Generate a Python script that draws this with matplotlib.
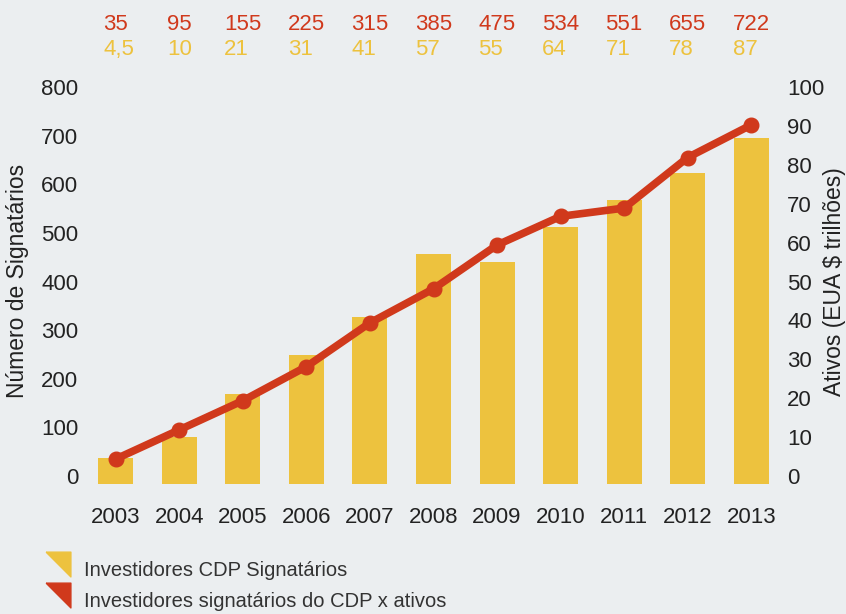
import matplotlib
matplotlib.use('Agg')
import matplotlib.pyplot as plt
from matplotlib.lines import Line2D
from matplotlib.path import Path as MplPath

years = ['2003', '2004', '2005', '2006', '2007', '2008', '2009', '2010', '2011', '2012', '2013']
signatarios = [35, 95, 155, 225, 315, 385, 475, 534, 551, 655, 722]
ativos = [4.5, 10, 21, 31, 41, 57, 55, 64, 71, 78, 87]
ativos_labels = ['4,5', '10', '21', '31', '41', '57', '55', '64', '71', '78', '87']

RED = '#d0391c'
YELLOW = '#edc23e'
BG = '#ebeef0'
TXT = '#222222'

plt.rcParams['font.family'] = ['Liberation Sans', 'DejaVu Sans']

W, H = 846, 614
fig = plt.figure(figsize=(W / 100, H / 100), dpi=100, facecolor=BG)
# axes placed in pixel terms: x 84..783, y 87..476 (from top)
ax = fig.add_axes([84 / W, 1 - 476 / H, (783 - 84) / W, (476 - 87) / H])
ax.set_facecolor(BG)
ax2 = ax.twinx()

xs = list(range(len(years)))

# bars on the right axis (assets), line on the left axis (signatories)
# bars start a little under the zero line, as in the original artwork
base = -2
ax2.bar(xs, [v - base for v in ativos], bottom=base, width=0.55, color=YELLOW,
        zorder=1, clip_on=False)
ax.plot(xs, signatarios, color=RED, linewidth=5.5, marker='o', markersize=10.5,
        solid_capstyle='round', zorder=3)
ax.set_zorder(ax2.get_zorder() + 1)
ax.patch.set_visible(False)
ax2.patch.set_visible(False)

ax.set_xlim(-0.5, 10.5)
ax.set_ylim(0, 800)
ax2.set_ylim(0, 100)
ax.set_yticks(range(0, 801, 100))
ax2.set_yticks(range(0, 101, 10))
ax.set_xticks(xs)
ax.set_xticklabels(years)

for a in (ax, ax2):
    for s in a.spines.values():
        s.set_visible(False)
    a.tick_params(length=0, labelsize=16, colors=TXT)
ax.tick_params(axis='y', pad=4)
ax2.tick_params(axis='y', pad=3)
ax.tick_params(axis='x', pad=22)

fig.text(18 / W, 1 - 281 / H, 'Número de Signatários', fontsize=16.5, color=TXT,
         rotation=90, ha='center', va='center')
fig.text(834 / W, 1 - 282 / H, 'Ativos (EUA $ trilhões)', fontsize=16.5, color=TXT,
         rotation=90, ha='center', va='center')

# value labels on top: red centred on the year, yellow left-aligned with red
fig.canvas.draw()
renderer = fig.canvas.get_renderer()
for i in xs:
    xpix = ax.transData.transform((i, 0))[0]
    t = fig.text(xpix / W, 1 - 29.5 / H, str(signatarios[i]), color=RED, fontsize=16,
                 ha='center', va='baseline')
    bb = t.get_window_extent(renderer)
    fig.text(bb.x0 / W, 1 - 55 / H, ativos_labels[i], color=YELLOW, fontsize=16,
             ha='left', va='baseline')

# folded-corner triangle, shifted up a bit relative to the legend text
tri = MplPath([(-1, 1.4), (1, 1.4), (1, -0.6), (-1, 1.4)])
handles = [
    Line2D([], [], linestyle='none', marker=tri, markersize=25, color=YELLOW),
    Line2D([], [], linestyle='none', marker=tri, markersize=25, color=RED),
]
labels = ['Investidores CDP Signatários', 'Investidores signatários do CDP x ativos']
fig.legend(handles, labels, loc='upper left', bbox_to_anchor=(45 / W, 1 - 561 / H),
           frameon=False, fontsize=14.5, labelcolor='#333333', handlelength=1.3,
           handletextpad=0.65, labelspacing=0.62, borderaxespad=0, borderpad=0)

fig.savefig('out.png', dpi=100, facecolor=BG)
